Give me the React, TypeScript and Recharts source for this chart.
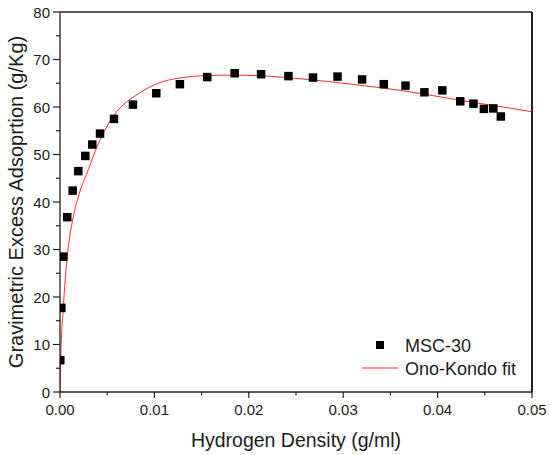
import {
  ComposedChart, Scatter, Line, XAxis, YAxis, ZAxis, Legend, ReferenceLine,
} from 'recharts'

const msc30Density = [
  0.00003, 0.00014, 0.00035, 0.00077, 0.00134, 0.00194, 0.00268, 0.00342, 0.00424, 0.00572,
  0.00773, 0.0102, 0.0127, 0.0156, 0.0185, 0.0213, 0.0242, 0.0268, 0.0294, 0.032,
  0.0343, 0.0366, 0.0386, 0.0405, 0.0424, 0.0438, 0.0449, 0.0459, 0.0467,
]
const msc30Uptake = [
  6.7, 17.7, 28.5, 36.8, 42.4, 46.5, 49.7, 52.1, 54.4, 57.5,
  60.5, 62.9, 64.8, 66.3, 67.1, 66.9, 66.5, 66.2, 66.4, 65.8,
  64.8, 64.5, 63.1, 63.5, 61.2, 60.7, 59.6, 59.7, 58.0,
]

// Ono-Kondo fit curve
const fitDensity = [
  0, 0.00007, 0.00035, 0.00077, 0.0014, 0.002, 0.003, 0.004, 0.005, 0.006,
  0.007, 0.008, 0.0095, 0.011, 0.013, 0.0155, 0.0185, 0.0212, 0.024, 0.0268,
  0.0296, 0.0321, 0.0357, 0.0392, 0.0427, 0.0463, 0.05,
]
const fitUptake = [
  0, 6.7, 17.7, 28.5, 36.8, 41.5, 46.8, 52.0, 56.0, 59.0,
  61.0, 62.4, 64.2, 65.4, 66.2, 66.6, 66.7, 66.6, 66.2, 65.7,
  65.1, 64.5, 63.6, 62.5, 61.3, 60.2, 59.0,
]

const xTicks = [0, 0.005, 0.01, 0.015, 0.02, 0.025, 0.03, 0.035, 0.04, 0.045, 0.05]
const xMajor = [0, 0.01, 0.02, 0.03, 0.04, 0.05]
const yTicks = [0, 5, 10, 15, 20, 25, 30, 35, 40, 45, 50, 55, 60, 65, 70, 75, 80]
const yMajor = [0, 10, 20, 30, 40, 50, 60, 70, 80]

const scatterData = msc30Density.map((d, i) => ({ density: d, uptake: msc30Uptake[i] }))
const fitData = fitDensity.map((d, i) => ({ density: d, uptake: fitUptake[i] }))

const font = '"Liberation Sans", Arial, sans-serif'
const ink = '#1c1c1c'
const axisColor = '#222'
const fitColor = '#ff2a2a'

const isMajor = (v: number, majors: number[]) => majors.some((m) => Math.abs(m - v) < 1e-9)

function XTick({ x, y, payload }: any) {
  const major = isMajor(payload.value, xMajor)
  return (
    <g>
      <line x1={x} x2={x} y1={y} y2={y + (major ? 6 : 3.5)} stroke={axisColor} strokeWidth={1.2} />
      {major && (
        <text x={x} y={y + 23} textAnchor="middle" fontSize={15} fontFamily={font} fill={ink}>
          {payload.value.toFixed(2)}
        </text>
      )}
    </g>
  )
}

function YTick({ x, y, payload }: any) {
  const major = isMajor(payload.value, yMajor)
  return (
    <g>
      <line x1={x - (major ? 7 : 4)} x2={x} y1={y} y2={y} stroke={axisColor} strokeWidth={1.2} />
      {major && (
        <text x={x - 10} y={y + 5.5} textAnchor="end" fontSize={15} fontFamily={font} fill={ink}>
          {payload.value}
        </text>
      )}
    </g>
  )
}

function LegendBox() {
  return (
    <svg width={180} height={52} style={{ display: 'block' }}>
      <rect x={18} y={11} width={8} height={8} fill="#000" />
      <text x={47} y={22} fontSize={18} fontFamily={font} fill={ink}>MSC-30</text>
      <line x1={4} x2={40} y1={38} y2={38} stroke={fitColor} strokeWidth={1} />
      <text x={47} y={45} fontSize={18} fontFamily={font} fill={ink}>Ono-Kondo fit</text>
    </svg>
  )
}

export default function App() {
  return (
    <div style={{ position: 'absolute', left: 0, top: 0, width: 550, height: 455, background: '#fff' }}>
      <ComposedChart
        width={550}
        height={455}
        margin={{ top: 12, right: 18, bottom: 0, left: 0 }}
      >
        <XAxis
          dataKey="density"
          type="number"
          domain={[0, 0.05]}
          ticks={xTicks}
          interval={0}
          allowDataOverflow
          tickSize={0}
          tickMargin={0}
          tickLine={false}
          tick={<XTick />}
          height={63}
          axisLine={{ stroke: axisColor, strokeWidth: 1.3 }}
          label={{
            content: ({ viewBox }: any) => (
              <text
                x={viewBox.x + viewBox.width / 2}
                y={viewBox.y + 55}
                textAnchor="middle"
                fontSize={19.5}
                fontFamily={font}
                fill={ink}
              >
                Hydrogen Density (g/ml)
              </text>
            ),
          }}
        />
        <YAxis
          dataKey="uptake"
          type="number"
          domain={[0, 80]}
          ticks={yTicks}
          interval={0}
          allowDataOverflow
          tickSize={0}
          tickMargin={0}
          tickLine={false}
          tick={<YTick />}
          width={60}
          axisLine={{ stroke: axisColor, strokeWidth: 1.3 }}
          label={{
            content: ({ viewBox }: any) => (
              <text
                transform={`translate(${viewBox.x + 23},${viewBox.y + viewBox.height / 2}) rotate(-90)`}
                textAnchor="middle"
                fontSize={20}
                fontFamily={font}
                fill={ink}
              >
                Gravimetric Excess Adsoprtion (g/Kg)
              </text>
            ),
          }}
        />
        <ZAxis range={[72, 72]} />
        <ReferenceLine y={80} stroke={axisColor} strokeWidth={1.3} />
        <ReferenceLine x={0.05} stroke={axisColor} strokeWidth={2} />
        <Line
          data={fitData}
          dataKey="uptake"
          type="monotone"
          stroke={fitColor}
          strokeWidth={1}
          dot={false}
          activeDot={false}
          isAnimationActive={false}
          legendType="none"
        />
        <Scatter
          data={scatterData}
          dataKey="uptake"
          shape="square"
          fill="#000"
          isAnimationActive={false}
        />
        <Legend
          layout="vertical"
          align="center"
          verticalAlign="middle"
          content={<LegendBox />}
          wrapperStyle={{ left: 358, top: 330, width: 180, height: 52 }}
        />
      </ComposedChart>
    </div>
  )
}
